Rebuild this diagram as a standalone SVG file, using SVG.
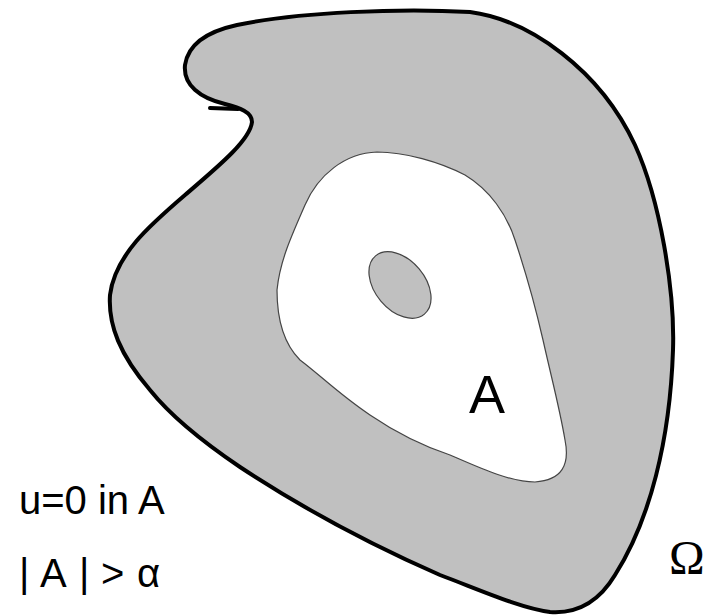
<svg xmlns="http://www.w3.org/2000/svg" width="709" height="615" viewBox="0 0 709 615">
<style>
.lbl{font-family:"Liberation Sans",Arial,sans-serif;fill:#000}
</style>
<rect width="709" height="615" fill="#fff"/>
<g id="omega-region">
<path d="M237,25 C300,12 400,8 470,12 C530,20 600,70 635,145 C660,200 675,290 673,350 C670,440 650,520 615,575 C600,600 578,614 550,612 C520,608 480,590 440,575 C360,540 290,500 240,467 C200,440 170,415 150,390 C120,355 108,325 110,295 C115,255 150,225 185,195 C220,165 250,140 252,122 C252,112 240,108 225,104 C200,98 183,85 185,65 C188,45 205,32 237,25 Z" fill="#c0c0c0" stroke="#000" stroke-width="4" stroke-linejoin="round"/>
<path d="M210,108 L238,109" stroke="#000" stroke-width="4" stroke-linecap="round"/>
</g>
<g id="set-A">
<path d="M377,152 C405,152 440,162 465,175 C490,190 507,215 515,240 C525,270 535,305 543,340 C552,380 560,410 565,440 C570,465 562,480 535,482 C510,482 480,468 450,455 C420,445 395,432 370,415 C340,395 320,375 300,360 C285,345 277,320 277,290 C280,260 292,235 305,205 C318,175 345,153 377,152 Z" fill="#fff" stroke="#444" stroke-width="1.2"/>
</g>
<g id="hole">
<ellipse cx="400" cy="285" rx="38" ry="25" transform="rotate(50 400 285)" fill="#c0c0c0" stroke="#444" stroke-width="1.2"/>
</g>
<g id="labels">
<text class="lbl" x="469" y="413" font-size="54">A</text>
<text class="lbl" x="19" y="514" font-size="40">u=0 in A</text>
<text class="lbl" y="587" font-size="40"><tspan x="19">|</tspan> <tspan x="40">A</tspan> <tspan x="79">|</tspan> <tspan x="101">&gt;</tspan> <tspan x="137">α</tspan></text>
<text x="669" y="574" font-size="48" font-family="'Liberation Serif','Times New Roman',serif">Ω</text>
</g>
</svg>
